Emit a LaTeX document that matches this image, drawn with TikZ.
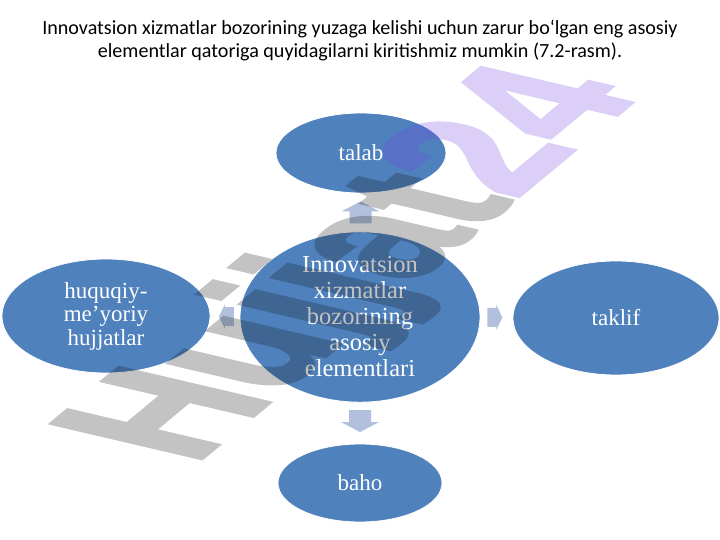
\documentclass[tikz,border=0pt]{standalone}
\usepackage{fontspec}
\setmainfont{Liberation Serif}
\newfontfamily\titlefont{Carlito}
\newfontfamily\serifbox{Liberation Serif}
\newfontfamily\wmfont[BoldFeatures={FakeBold=2.5}]{Liberation Sans}
\usetikzlibrary{calc,shapes.geometric}
\definecolor{boxblue}{RGB}{79,129,189}
\definecolor{arrowc}{RGB}{178,192,222}
\definecolor{wmgrey}{RGB}{19,19,19}
\definecolor{wmpurple}{RGB}{115,67,227}
\tikzset{
  bubble/.style={ellipse, fill=boxblue, draw=white, line width=0.8pt, inner sep=0pt,
     text=white, align=center, font=\serifbox\fontsize{23}{23.5}\selectfont},
  pics/blockarr/.style n args={4}{code={
    \fill[arrowc] (-#1/2,-#2) -- (#1/2-#4,-#2) -- (#1/2-#4,-#3) -- (#1/2,0)
      -- (#1/2-#4,#3) -- (#1/2-#4,#2) -- (-#1/2,#2) -- cycle;}}
}
\begin{document}
\begin{tikzpicture}[x=1pt,y=-1pt]
\useasboundingbox (0,0) rectangle (720,540);
\fill[white] (0,0) rectangle (720,540);
\node[align=center, font=\titlefont\fontsize{20.1}{23}\selectfont] (title) at (360,40)
  {Innovatsion xizmatlar bozorining yuzaga kelishi uchun zarur bo‘lgan eng asosiy\\
   elementlar qatoriga quyidagilarni kiritishmiz mumkin (7.2-rasm).};
\node[bubble, minimum width=240pt, minimum height=157pt,
      font=\serifbox\fontsize{24.5}{26}\selectfont] (c) at (360,317)
  {Innovatsion\\xizmatlar\\bozorining\\asosiy\\elementlari};
\node[bubble, minimum width=170pt, minimum height=80pt] (t) at (361,153) {talab};
\node[bubble, minimum width=206pt, minimum height=114pt] (r) at (616,318) {taklif};
\node[bubble, minimum width=208pt, minimum height=114pt] (l) at (106,316)
  {huquqiy-\\me’yoriy\\hujjatlar};
\node[bubble, minimum width=164pt, minimum height=78pt] (b) at (360,483) {baho};
% block arrows between the centre and the outer ellipses
\path (c.north) -- (t.south) coordinate[pos=0.5] (mup);
\path (c.south) -- (b.north) coordinate[pos=0.45] (mdown);
\path (c.east) -- (r.west) coordinate[pos=0.45] (mright);
\path (c.west) -- (l.east) coordinate[pos=0.45] (mleft);
\pic[rotate=90] at (mup) {blockarr={22}{11}{19}{10}};
\pic[rotate=-90] at (mdown) {blockarr={22}{11}{19}{10}};
\pic at (mright) {blockarr={15}{9.5}{12.5}{6}};
\pic[rotate=180] at (mleft) {blockarr={15}{9.5}{12.5}{6}};
% watermark (rotated, then squashed vertically)
\begin{scope}[transparency group, opacity=0.25]
\begin{scope}[shift={(362,266)}, yscale=0.44]
\node[rotate=62, transform shape, text=wmgrey, inner sep=0pt,
      font=\wmfont\bfseries\fontsize{246}{246}\selectfont] (wm) at (0,0)
  {Hujjat\textcolor{wmpurple}{24}};
\end{scope}
\end{scope}
\end{tikzpicture}
\end{document}
